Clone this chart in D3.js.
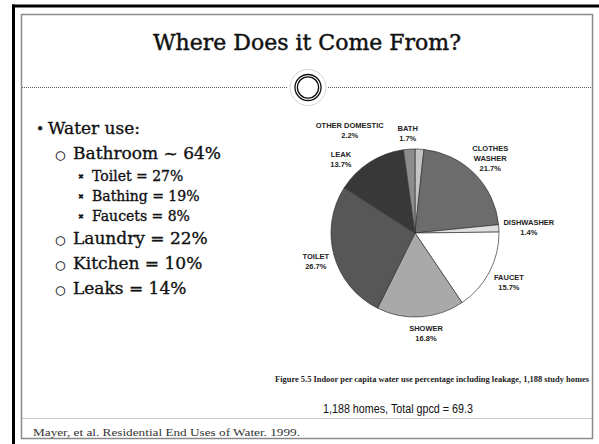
<!DOCTYPE html>
<html>
<head>
<meta charset="utf-8">
<script src="https://cdn.jsdelivr.net/npm/d3@7"></script>
<style>
  body { margin: 0; background: #fff; }
  svg { display: block; }
  .lbl { font-family: "Liberation Sans", Arial, sans-serif; font-size: 7.5px; font-weight: bold; fill: #222; }
  .bul { font-family: "DejaVu Serif", serif; fill: #111; stroke: #111; stroke-width: 0.35px; }
</style>
</head>
<body>
<svg id="slide" width="599" height="444"></svg>
<script>
// pie data, clockwise from 12 o'clock
const sliceNames = ["BATH", "CLOTHES\nWASHER", "DISHWASHER", "FAUCET", "SHOWER", "TOILET", "LEAK", "OTHER DOMESTIC"];
const sliceValues = [1.7, 21.7, 1.4, 15.7, 16.8, 26.7, 13.7, 2.2];

// bullet text
const bulletItems = [
  { level: 0, text: "Water use:" },
  { level: 1, text: "Bathroom ~ 64%" },
  { level: 2, text: "Toilet = 27%" },
  { level: 2, text: "Bathing = 19%" },
  { level: 2, text: "Faucets = 8%" },
  { level: 1, text: "Laundry = 22%" },
  { level: 1, text: "Kitchen = 10%" },
  { level: 1, text: "Leaks = 14%" }
];

const titleText = "Where Does it Come From?";
const captionText = "Figure 5.5  Indoor per capita water use percentage including leakage, 1,188 study homes";
const totalText = "1,188 homes, Total gpcd = 69.3";
const sourceText = "Mayer, et al.  Residential End Uses of Water. 1999.";

const svg = d3.select("#slide");

// ---- slide frame ----
svg.append("line").attr("x1", 12).attr("x2", 599).attr("y1", 6).attr("y2", 6)
  .attr("stroke", "#000").attr("stroke-width", 3);
svg.append("line").attr("x1", 13.5).attr("x2", 13.5).attr("y1", 4.5).attr("y2", 444)
  .attr("stroke", "#000").attr("stroke-width", 3);
svg.append("rect").attr("x", 21.5).attr("y", 14.5).attr("width", 571).attr("height", 424)
  .attr("fill", "none").attr("stroke", "#8a8a8a").attr("stroke-width", 1.5);
svg.append("line").attr("x1", 22).attr("x2", 592).attr("y1", 418.5).attr("y2", 418.5)
  .attr("stroke", "#c8c8c8").attr("stroke-width", 1);

// title + ornament
svg.append("text").attr("x", 307).attr("y", 50).attr("text-anchor", "middle")
  .attr("font-family", "DejaVu Serif, serif").attr("font-size", 22).attr("fill", "#111")
  .attr("stroke", "#111").attr("stroke-width", 0.45)
  .text(titleText);

const cx0 = 308, cy0 = 87.5;
svg.append("line").attr("x1", 22).attr("x2", cx0 - 20).attr("y1", cy0).attr("y2", cy0)
  .attr("stroke", "#555").attr("stroke-dasharray", "1,1");
svg.append("line").attr("x1", cx0 + 20).attr("x2", 592).attr("y1", cy0).attr("y2", cy0)
  .attr("stroke", "#555").attr("stroke-dasharray", "1,1");
svg.append("circle").attr("cx", cx0).attr("cy", cy0).attr("r", 18)
  .attr("fill", "#fff").attr("stroke", "#ccc").attr("stroke-width", 0.8);
svg.append("circle").attr("cx", cx0).attr("cy", cy0).attr("r", 13)
  .attr("fill", "none").attr("stroke", "#111").attr("stroke-width", 1.3);
svg.append("circle").attr("cx", cx0).attr("cy", cy0).attr("r", 10.6)
  .attr("fill", "none").attr("stroke", "#111").attr("stroke-width", 1.3);

// ---- bullets ----
const bulletLayout = {
  0: { mx: 36, tx: 48, size: 17, mark: "•", msize: 14 },
  1: { mx: 55, tx: 73, size: 17, mark: "○", msize: 12 },
  2: { mx: 78, tx: 92, size: 14, mark: "✖", msize: 7 }
};
const rowY = d3.scaleOrdinal().domain(d3.range(bulletItems.length))
  .range([134, 159, 181, 201, 221, 244, 269, 294]);

const bg = svg.append("g");
bulletItems.forEach((b, i) => {
  const L = bulletLayout[b.level];
  bg.append("text").attr("class", "bul").attr("x", L.mx).attr("y", rowY(i) - (b.level === 2 ? 2 : 0))
    .attr("font-size", L.msize).style("stroke-width", "0.2px").text(L.mark);
  bg.append("text").attr("class", "bul").attr("x", L.tx).attr("y", rowY(i))
    .attr("font-size", L.size).text(b.text);
});

// ---- pie ----
const pcx = 415, pcy = 233, R = 84;
const fills = d3.scaleOrdinal().domain(sliceNames)
  .range(["#c4c4c4", "#6c6c6c", "#dedede", "#ffffff", "#a9a9a9", "#575757", "#383838", "#8c8c8c"]);

const pie = d3.pie().sort(null).value(d => d.value);
const arcs = pie(sliceNames.map((n, i) => ({ name: n, value: sliceValues[i] })));
const arc = d3.arc().innerRadius(0).outerRadius(R);

const pg = svg.append("g").attr("transform", `translate(${pcx},${pcy})`);
pg.selectAll("path").data(arcs).join("path")
  .attr("d", arc)
  .attr("fill", d => fills(d.data.name))
  .attr("stroke", "#333").attr("stroke-width", 0.7);

// labels: centroid on an outer ring, then nudged to match the scan
const labelArc = d3.arc().innerRadius(106).outerRadius(106);
const nudge = {
  "BATH": [-13, 6],
  "CLOTHES\nWASHER": [0, 0],
  "DISHWASHER": [8, 0],
  "FAUCET": [0, 0],
  "SHOWER": [4, -6],
  "TOILET": [3, 0],
  "LEAK": [-17, 15],
  "OTHER DOMESTIC": [-58, 3]
};
pg.selectAll("text.lbl").data(arcs).join("text")
  .attr("class", "lbl")
  .attr("text-anchor", "middle")
  .each(function (d) {
    const [x, y] = labelArc.centroid(d);
    const [nx, ny] = nudge[d.data.name];
    const lines = d.data.name.split("\n").concat([d3.format(".1f")(d.data.value) + "%"]);
    const t = d3.select(this);
    lines.forEach((s, k) => {
      t.append("tspan").attr("x", x + nx)
        .attr("y", y + ny + (k - (lines.length - 1) / 2) * 10 + 3)
        .text(s);
    });
  });

// ---- captions ----
svg.append("text").attr("x", 275).attr("y", 382)
  .attr("font-family", "Liberation Serif, serif").attr("font-weight", "bold")
  .attr("font-size", 8.5).attr("fill", "#222")
  .attr("textLength", 314).attr("lengthAdjust", "spacingAndGlyphs")
  .text(captionText);

svg.append("text").attr("x", 323).attr("y", 413)
  .attr("font-family", "Liberation Sans, Arial, sans-serif")
  .attr("font-size", 12.5).attr("fill", "#111")
  .attr("textLength", 150).attr("lengthAdjust", "spacingAndGlyphs")
  .text(totalText);

svg.append("text").attr("x", 33).attr("y", 436)
  .attr("font-family", "Liberation Serif, serif")
  .attr("font-size", 11).attr("fill", "#333")
  .attr("textLength", 267).attr("lengthAdjust", "spacingAndGlyphs")
  .text(sourceText);
</script>
</body>
</html>
